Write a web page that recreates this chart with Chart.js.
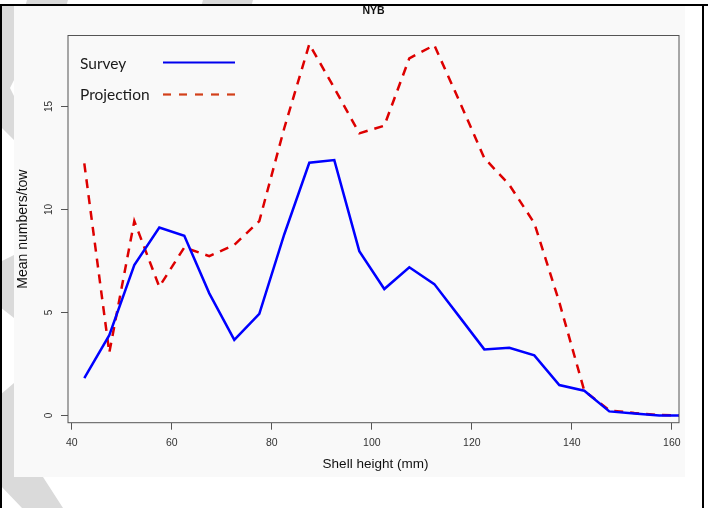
<!DOCTYPE html>
<html>
<head>
<meta charset="utf-8">
<script src="https://cdn.jsdelivr.net/npm/chart.js@4.4.1/dist/chart.umd.min.js"></script>
<style>
  html, body { margin: 0; padding: 0; background: #ffffff; }
  #wrap { width: 708px; height: 508px; position: relative; }
</style>
</head>
<body>
<div id="wrap"><canvas id="c" width="708" height="508"></canvas></div>
<script>
// ---- data ----
const shellHeight = [42.5, 47.5, 52.5, 57.5, 62.5, 67.5, 72.5, 77.5, 82.5, 87.5, 92.5, 97.5, 102.5,
                     107.5, 112.5, 117.5, 122.5, 127.5, 132.5, 137.5, 142.5, 147.5, 152.5, 157.5, 162.5];
const survey     = [1.82, 3.9, 7.3, 9.13, 8.73, 5.93, 3.67, 4.93, 8.8, 12.27, 12.4, 7.98, 6.14,
                     7.2, 6.38, 4.8, 3.21, 3.29, 2.92, 1.48, 1.2, 0.2, 0.1, 0.0, 0.0];
const projection = [12.24, 3.05, 9.44, 6.25, 8.16, 7.74, 8.28, 9.44, 13.96, 18.03, 15.9, 13.7, 14.07,
                     17.34, 17.98, 15.27, 12.5, 11.2, 9.34, 5.5, 1.2, 0.25, 0.12, 0.02, 0.0];
const xTicks = [40, 60, 80, 100, 120, 140, 160];
const yTicks = [0, 5, 10, 15];
const seriesNames = ['Survey', 'Projection'];
const chartTitle = 'NYB';
const xTitle = 'Shell height (mm)';
const yTitle = 'Mean numbers/tow';

const toPts = (ys) => ys.map((y, i) => ({ x: shellHeight[i], y: y }));

const backgroundPlugin = {
  id: 'bg',
  beforeDraw(chart) {
    const ctx = chart.ctx;
    ctx.save();
    ctx.fillStyle = '#ffffff';
    ctx.fillRect(0, 0, 708, 508);
    // decorative grey stripes of the slide background
    ctx.fillStyle = '#dadada';
    const polys = [
      [[27, 0], [68, 0], [66, 7], [25, 7]],
      [[203, 0], [253, 0], [251, 7], [201, 7]],
      [[0, 6], [14, 6], [14, 80], [10, 88], [14, 96], [14, 140], [0, 126]],
      [[0, 262], [14, 255], [14, 318], [0, 307]],
      [[0, 395], [14, 383], [14, 477], [43, 477], [63, 508], [22, 508], [0, 485]]
    ];
    polys.forEach(p => {
      ctx.beginPath();
      ctx.moveTo(p[0][0], p[0][1]);
      for (let i = 1; i < p.length; i++) ctx.lineTo(p[i][0], p[i][1]);
      ctx.closePath();
      ctx.fill();
    });
    // panel
    ctx.fillStyle = '#f9f9f9';
    ctx.fillRect(14, 6, 671, 471);
    // frame lines
    ctx.fillStyle = '#000000';
    ctx.fillRect(0, 4, 708, 2);
    ctx.fillRect(0, 4, 2, 504);
    ctx.fillRect(702, 4, 2, 504);
    ctx.restore();
  },
  afterDraw(chart) {
    const ctx = chart.ctx;
    const a = chart.chartArea;
    const ys = chart.scales.y;
    ctx.save();
    // box
    ctx.strokeStyle = '#555555';
    ctx.lineWidth = 1;
    ctx.strokeRect(a.left, a.top, a.right - a.left, a.bottom - a.top);
    // y tick labels (rotated, R style)
    ctx.fillStyle = '#333333';
    ctx.font = '10px "Liberation Sans", Arial, sans-serif';
    ctx.textAlign = 'center';
    ctx.textBaseline = 'middle';
    yTicks.forEach(v => {
      const y = ys.getPixelForValue(v);
      ctx.save();
      ctx.translate(49, y);
      ctx.rotate(-Math.PI / 2);
      ctx.fillText(String(v), 0, 0);
      ctx.restore();
    });
    // titles
    const cx = (a.left + a.right) / 2;
    ctx.fillStyle = '#111111';
    ctx.font = 'bold 10.5px "Liberation Sans", Arial, sans-serif';
    ctx.fillText(chartTitle, cx, 11.5);
    ctx.font = '13.5px "Liberation Sans", Arial, sans-serif';
    ctx.fillText(xTitle, cx + 2, 464);
    ctx.save();
    ctx.translate(23, (a.top + a.bottom) / 2);
    ctx.rotate(-Math.PI / 2);
    ctx.font = '14px "Liberation Sans", Arial, sans-serif';
    ctx.fillText(yTitle, 0, 0);
    ctx.restore();
    // legend
    ctx.textAlign = 'left';
    ctx.textBaseline = 'alphabetic';
    ctx.fillStyle = '#1a1a1a';
    ctx.font = '15.5px Lato, "Open Sans", sans-serif';
    ctx.fillText(seriesNames[0], 80, 69);
    ctx.fillText(seriesNames[1], 80, 100);
    ctx.lineWidth = 2.2;
    ctx.strokeStyle = '#0000ee';
    ctx.beginPath();
    ctx.moveTo(163, 62.5);
    ctx.lineTo(235, 62.5);
    ctx.stroke();
    ctx.strokeStyle = '#d2401a';
    ctx.setLineDash([8, 8]);
    ctx.beginPath();
    ctx.moveTo(163, 94.5);
    ctx.lineTo(235, 94.5);
    ctx.stroke();
    ctx.setLineDash([]);
    ctx.restore();
  }
};

new Chart(document.getElementById('c'), {
  type: 'line',
  data: {
    datasets: [
      {
        label: seriesNames[0],
        data: toPts(survey),
        borderColor: '#0000ff',
        borderWidth: 2.5,
        pointRadius: 0,
        tension: 0,
        fill: false
      },
      {
        label: seriesNames[1],
        data: toPts(projection),
        borderColor: '#dd0000',
        borderWidth: 2.5,
        borderDash: [9, 7],
        pointRadius: 0,
        tension: 0,
        fill: false
      }
    ]
  },
  options: {
    responsive: false,
    animation: false,
    devicePixelRatio: 1,
    layout: { padding: { left: 0, right: 29, top: 35.5, bottom: 0 } },
    plugins: {
      legend: { display: false },
      tooltip: { enabled: false },
      title: { display: false }
    },
    scales: {
      x: {
        type: 'linear',
        min: 39.24,
        max: 161.44,
        afterBuildTicks: (s) => { s.ticks = xTicks.map(v => ({ value: v })); },
        afterFit: (s) => { s.height = 508 - 422.7; },
        border: { display: false },
        grid: { drawOnChartArea: false, drawTicks: true, tickLength: 7, color: '#555555', lineWidth: 1 },
        ticks: {
          maxRotation: 0,
          minRotation: 0,
          padding: 7,
          color: '#333333',
          font: { family: '"Liberation Sans", Arial, sans-serif', size: 10.5 },
          callback: (v) => String(v)
        }
      },
      y: {
        type: 'linear',
        min: -0.35,
        max: 18.45,
        afterBuildTicks: (s) => { s.ticks = yTicks.map(v => ({ value: v })); },
        afterFit: (s) => { s.width = 68; },
        border: { display: false },
        grid: { drawOnChartArea: false, drawTicks: true, tickLength: 7, color: '#555555', lineWidth: 1 },
        ticks: { display: false }
      }
    }
  },
  plugins: [backgroundPlugin]
});
</script>
</body>
</html>
